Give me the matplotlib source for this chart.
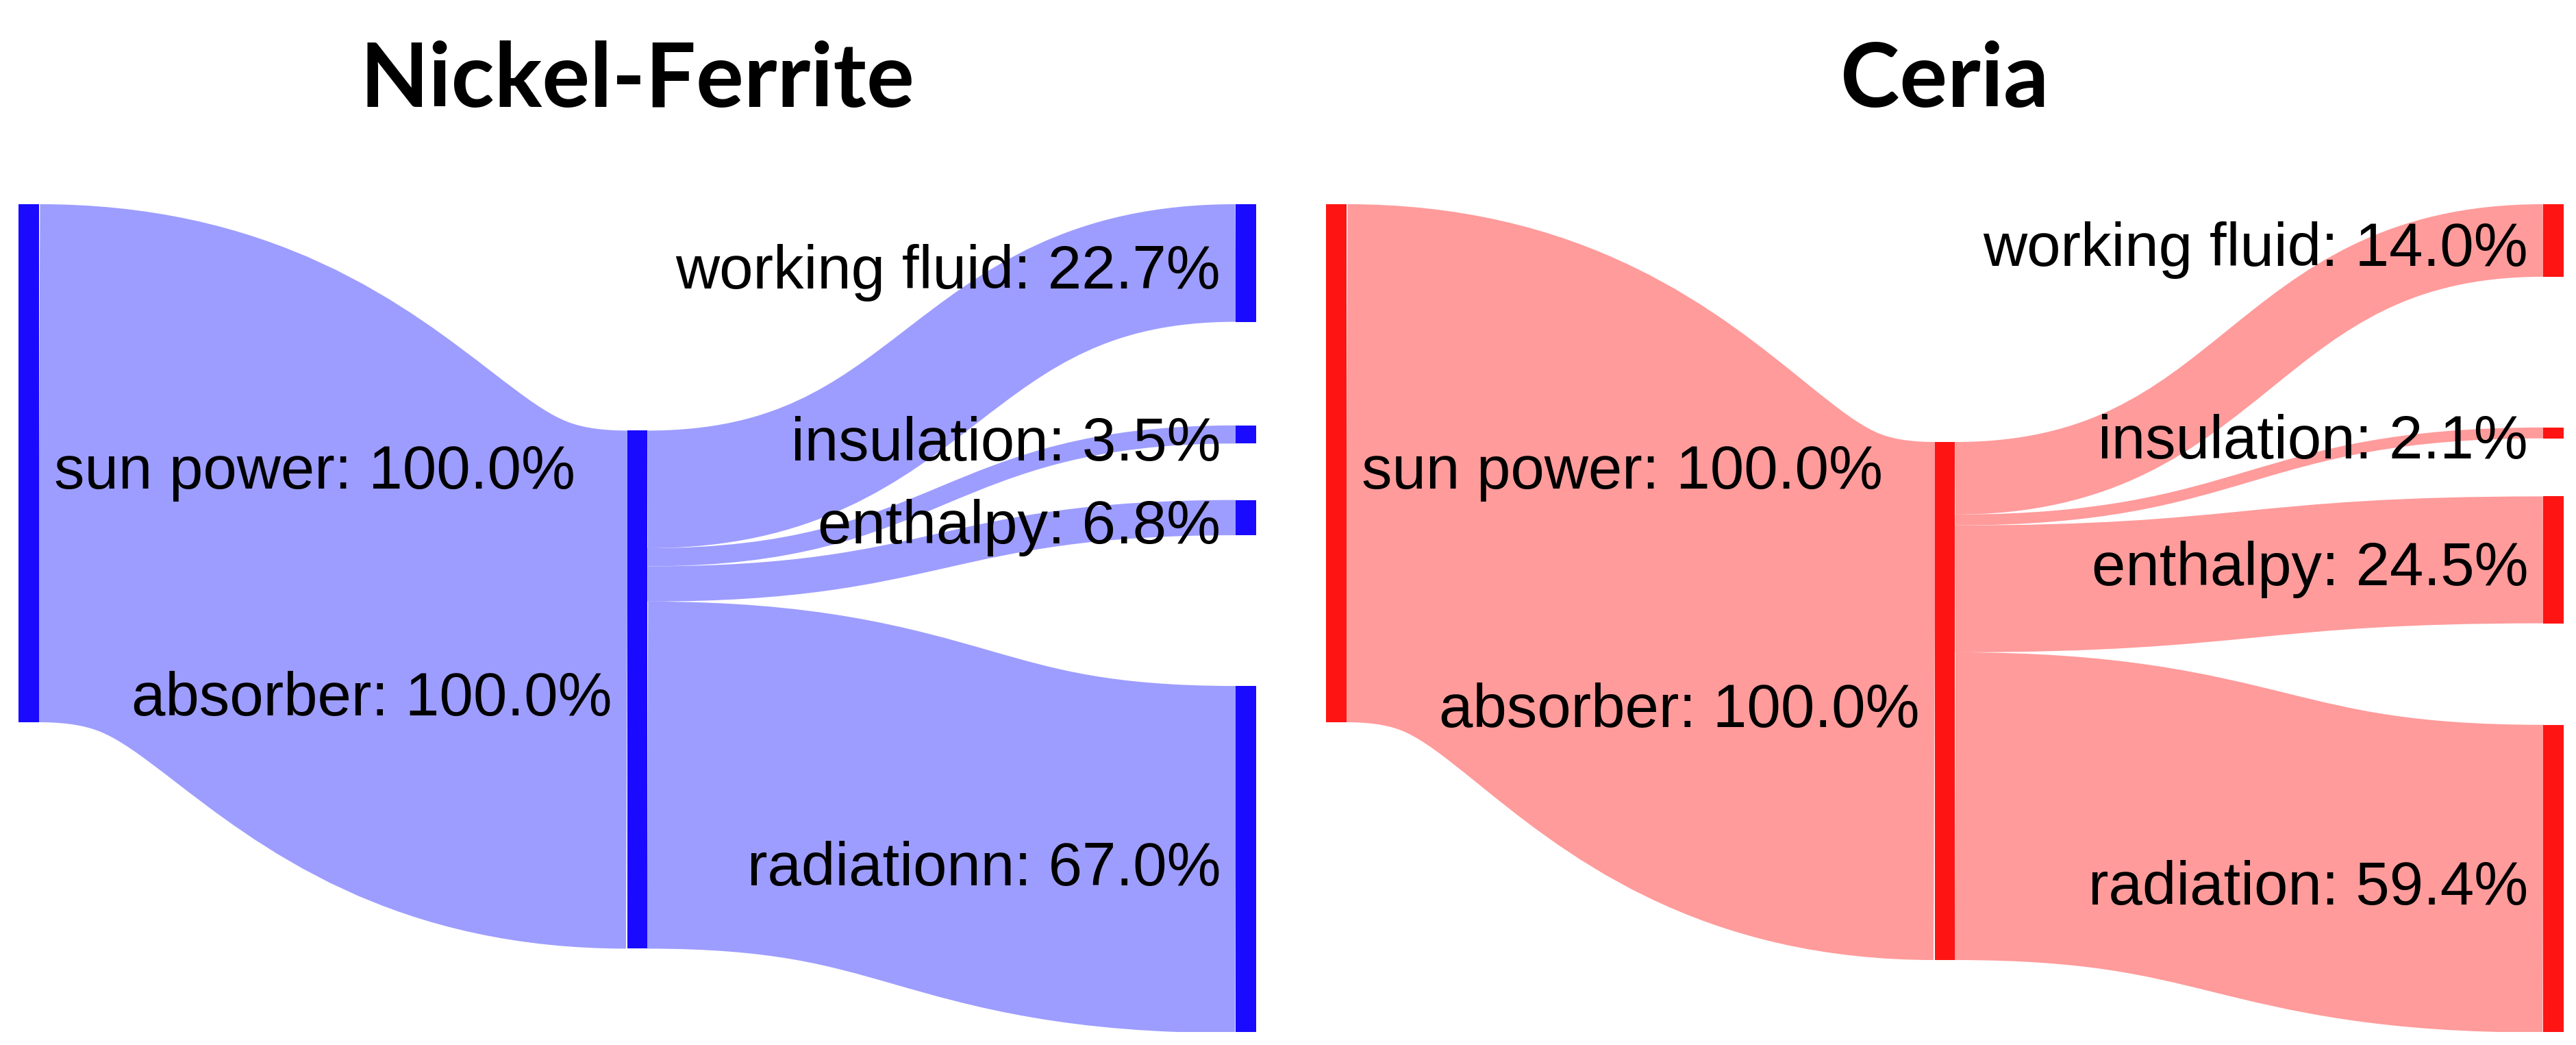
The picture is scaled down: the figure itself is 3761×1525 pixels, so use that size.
import numpy as np
import matplotlib.pyplot as plt
from matplotlib.path import Path
from matplotlib.patches import PathPatch, Rectangle
from matplotlib import font_manager

######### chart data
panel_titles = ["Nickel-Ferrite", "Ceria"]
source_name = "sun power"
hub_name = "absorber"
nf_targets = ["working fluid", "insulation", "enthalpy", "radiationn"]
nf_shares = [22.7, 3.5, 6.8, 67.0]
ce_targets = ["working fluid", "insulation", "enthalpy", "radiation"]
ce_shares = [14.0, 2.1, 24.5, 59.4]

######### layout (node tops in % units, as the sankey placed them)
nf_hub_top = 43.7
nf_target_tops = [0.0, 42.7, 57.1, 93.0]
ce_hub_top = 45.9
ce_target_tops = [0.0, 43.1, 56.4, 100.5]

node_colors = ["#1a0aff", "#ff1414"]
link_colors = ["#9d9dff", "#ff9b9b"]

W, H, DPI = 3761, 1525, 100
PX_COL = 889.0            # px between columns
PX_UNIT = 7.56            # px per percent
NODE_W = 30 / PX_COL      # node thickness in column units
Y_SPAN = 1208 / PX_UNIT   # vertical extent in percent units
PAD = 22 / PX_COL

names = {f.name for f in font_manager.fontManager.ttflist}
if "Liberation Sans Narrow" in names:
    title_font, title_size = "Liberation Sans Narrow", 110
else:
    title_font, title_size = "Lato", 94
label_font = "Liberation Sans"


def draw_link(ax, x0, x1, y0, y1, h, color):
    # link drawn as a thick stroke along the centre curve (like d3 sankey)
    xm = (x0 + x1) / 2
    c0, c1 = y0 + h / 2, y1 + h / 2
    verts = [(x0, c0), (xm, c0), (xm, c1), (x1, c1)]
    codes = [Path.MOVETO, Path.CURVE4, Path.CURVE4, Path.CURVE4]
    lw = h * PX_UNIT * 72 / DPI
    ax.add_patch(PathPatch(Path(verts, codes), fill=False, ec=color, lw=lw,
                           capstyle="butt", zorder=1))


def draw_node(ax, col, top, h, color, label):
    ax.add_patch(Rectangle((col, top), NODE_W, h, fc=color, ec="none", zorder=3))
    yc = top + h / 2
    if col == 0:
        x, ha = col + NODE_W + PAD, "left"
    else:
        x, ha = col - PAD, "right"
    # baseline sits a bit below the node centre so the caps look centred
    ax.annotate(label, (x, yc), xytext=(0, -27), textcoords="offset points",
                ha=ha, va="baseline", fontsize=64, family=label_font,
                color="black", zorder=4, annotation_clip=False)


def sankey_panel(ax, title, targets, shares, hub_top, target_tops, ncol, lcol):
    total = sum(shares)
    # source -> hub
    draw_link(ax, NODE_W, 1, 0.0, hub_top, total, lcol)
    # hub -> targets, stacked in order
    y_out = hub_top
    for name, val, top in zip(targets, shares, target_tops):
        draw_link(ax, 1 + NODE_W, 2, y_out, top, val, lcol)
        y_out += val
    draw_node(ax, 0, 0.0, total, ncol, f"{source_name}: {total:.1f}%")
    draw_node(ax, 1, hub_top, total, ncol, f"{hub_name}: {total:.1f}%")
    for name, val, top in zip(targets, shares, target_tops):
        draw_node(ax, 2, top, val, ncol, f"{name}: {val:.1f}%")

    ax.set_xlim(0, 2 + NODE_W)
    ax.set_ylim(Y_SPAN, 0)
    ax.axis("off")
    ax.text(0.5, (1506 - 156) / 1208, title, transform=ax.transAxes,
            ha="center", va="baseline", fontsize=title_size,
            weight="bold", family=title_font)


fig = plt.figure(figsize=(W / DPI, H / DPI), dpi=DPI)
ax1 = fig.add_axes([27 / W, 19 / H, 1807 / W, 1208 / H])
ax2 = fig.add_axes([1936 / W, 19 / H, 1807 / W, 1208 / H])

sankey_panel(ax1, panel_titles[0], nf_targets, nf_shares, nf_hub_top,
             nf_target_tops, node_colors[0], link_colors[0])
sankey_panel(ax2, panel_titles[1], ce_targets, ce_shares, ce_hub_top,
             ce_target_tops, node_colors[1], link_colors[1])

fig.savefig("out.png", dpi=DPI)
